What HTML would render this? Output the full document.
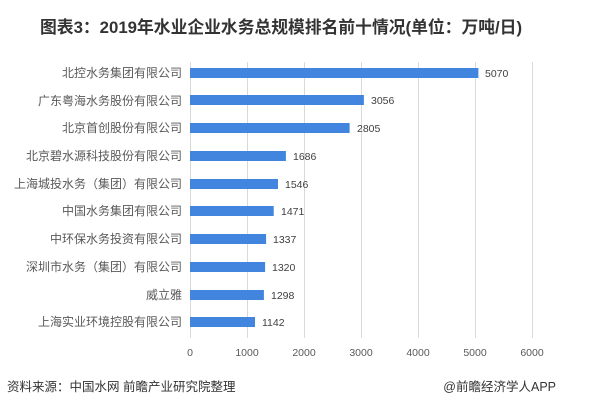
<!DOCTYPE html>
<html><head><meta charset="utf-8"><style>
body{margin:0;background:#fff;width:600px;height:411px;overflow:hidden;font-family:"Liberation Sans","Noto Sans CJK SC",sans-serif;}
</style></head><body>
<svg width="600" height="411" xmlns="http://www.w3.org/2000/svg" font-family="Liberation Sans, Noto Sans CJK SC, sans-serif">
<text x="40" y="33" font-size="16.8" font-weight="bold" fill="#333">图表3：2019年水业企业水务总规模排名前十情况(单位：万吨/日)</text>
<g stroke="#d9d9d9" stroke-width="1">
<line x1="190.5" y1="62" x2="190.5" y2="338"/>
<line x1="247.5" y1="62" x2="247.5" y2="338"/>
<line x1="304.5" y1="62" x2="304.5" y2="338"/>
<line x1="361.5" y1="62" x2="361.5" y2="338"/>
<line x1="418.5" y1="62" x2="418.5" y2="338"/>
<line x1="475.5" y1="62" x2="475.5" y2="338"/>
<line x1="532.5" y1="62" x2="532.5" y2="338"/>
</g>
<g font-size="12" fill="#595959" text-anchor="end">
<text x="182" y="77">北控水务集团有限公司</text>
<text x="182" y="105">广东粤海水务股份有限公司</text>
<text x="182" y="132">北京首创股份有限公司</text>
<text x="182" y="160">北京碧水源科技股份有限公司</text>
<text x="182" y="188">上海城投水务（集团）有限公司</text>
<text x="182" y="215">中国水务集团有限公司</text>
<text x="182" y="243">中环保水务投资有限公司</text>
<text x="182" y="271">深圳市水务（集团）有限公司</text>
<text x="182" y="299">威立雅</text>
<text x="182" y="326">上海实业环境控股有限公司</text>
</g>
<g fill="#4285de">
<rect x="190" y="68" width="288.4" height="10"/>
<rect x="190" y="95" width="173.9" height="10"/>
<rect x="190" y="123" width="159.6" height="10"/>
<rect x="190" y="151" width="95.9" height="10"/>
<rect x="190" y="179" width="88" height="10"/>
<rect x="190" y="206" width="83.7" height="10"/>
<rect x="190" y="234" width="76.1" height="10"/>
<rect x="190" y="262" width="75.1" height="10"/>
<rect x="190" y="290" width="73.9" height="10"/>
<rect x="190" y="317" width="65" height="10"/>
</g>
<g font-size="10.5" fill="#404040">
<text x="485" y="77">5070</text>
<text x="371" y="104">3056</text>
<text x="357" y="132">2805</text>
<text x="293" y="160">1686</text>
<text x="285" y="188">1546</text>
<text x="281" y="215">1471</text>
<text x="273" y="243">1337</text>
<text x="272" y="271">1320</text>
<text x="271" y="299">1298</text>
<text x="262" y="326">1142</text>
</g>
<g font-size="10.5" fill="#595959" text-anchor="middle">
<text x="190" y="356">0</text>
<text x="247" y="356">1000</text>
<text x="304" y="356">2000</text>
<text x="361" y="356">3000</text>
<text x="418" y="356">4000</text>
<text x="475" y="356">5000</text>
<text x="532" y="356">6000</text>
</g>
<text x="7" y="391" font-size="12.5" fill="#333">资料来源：中国水网 前瞻产业研究院整理</text>
<text x="556" y="391" font-size="12.5" fill="#333" text-anchor="end">@前瞻经济学人APP</text>
</svg>
</body></html>
